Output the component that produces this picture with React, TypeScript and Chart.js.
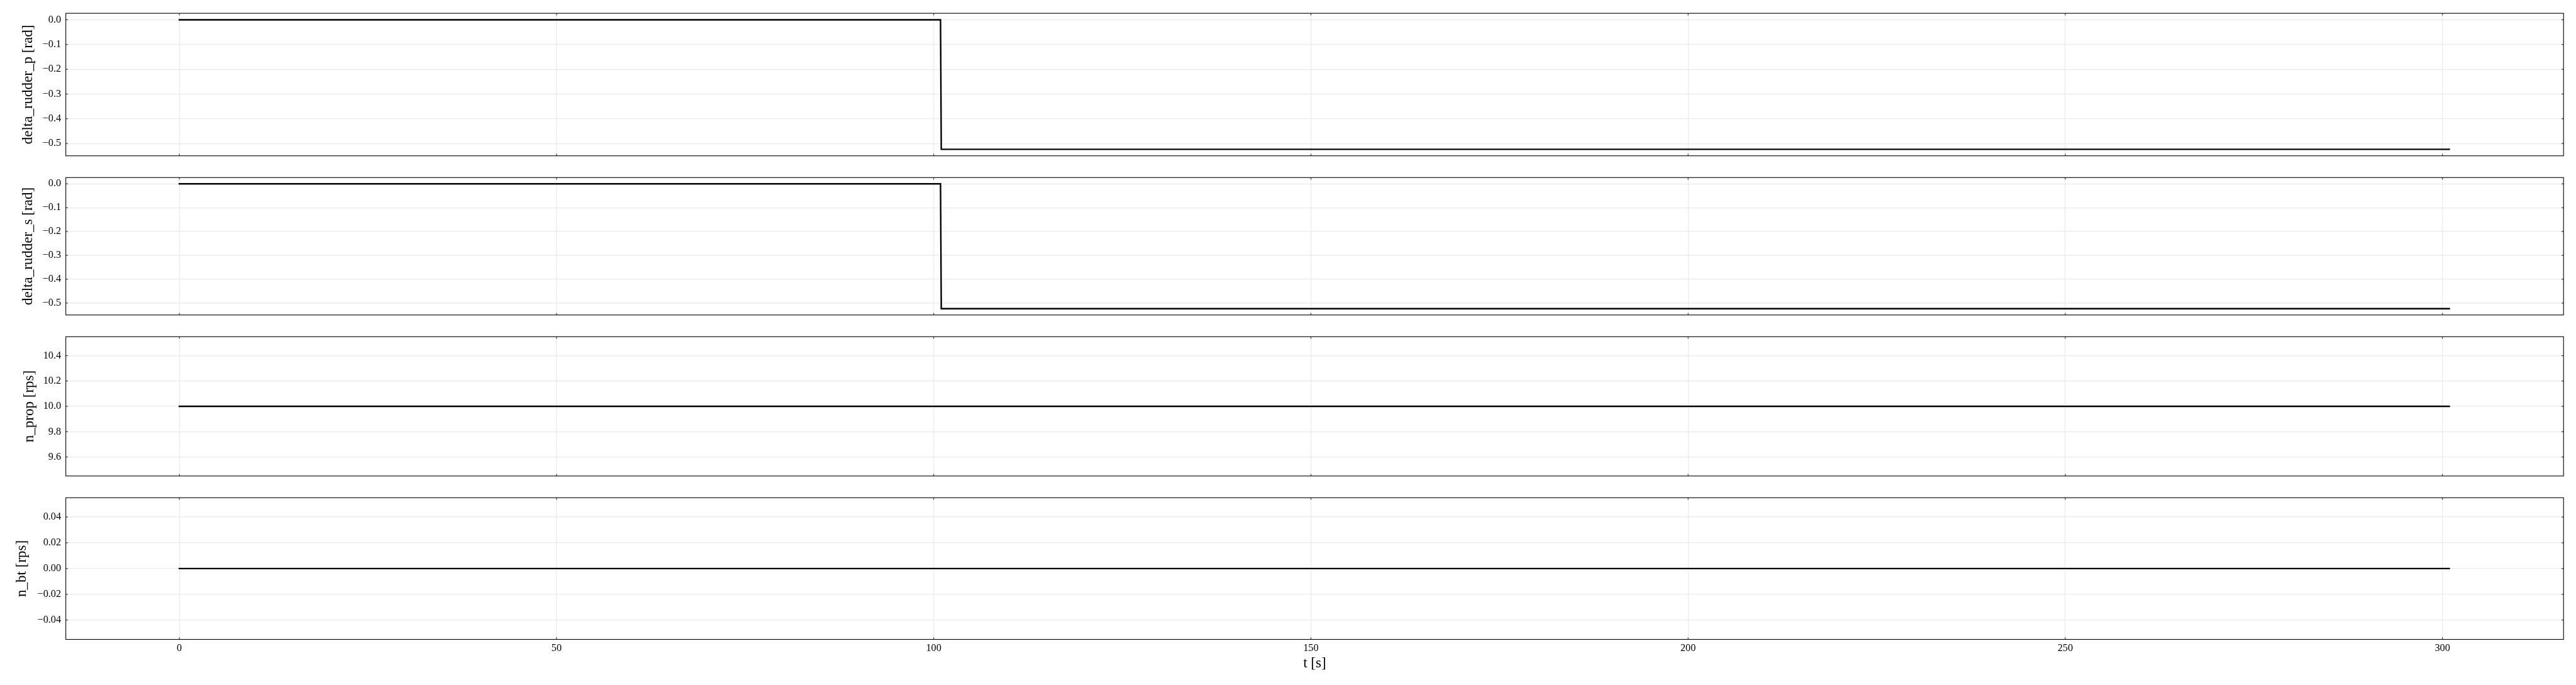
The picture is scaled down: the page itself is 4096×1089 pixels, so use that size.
import React, { useEffect, useRef } from "react";
import { Chart, registerables } from "chart.js";
Chart.register(...registerables);

// ---- data ----
const T_STEP = [0, 100.9, 101.0, 300.9];
const RUDDER_P = [0, 0, -0.5236, -0.5236];
const RUDDER_S = [0, 0, -0.5236, -0.5236];
const T_CONST = [0, 300.9];
const N_PROP = [10, 10];
const N_BT = [0, 0];
const X_TICKS = [0, 50, 100, 150, 200, 250, 300];
const Y_TICKS_RUDDER = [0, -0.1, -0.2, -0.3, -0.4, -0.5];
const Y_TICKS_PROP = [9.6, 9.8, 10.0, 10.2, 10.4];
const Y_TICKS_BT = [-0.04, -0.02, 0, 0.02, 0.04];
const Y_LABELS = ["delta_rudder_p [rad]", "delta_rudder_s [rad]", "n_prop [rps]", "n_bt [rps]"];
const X_LABEL = "t [s]";

// ---- layout ----
const W = 4096;
const FONT = "'Liberation Serif', 'Times New Roman', serif";
const PANELS = [
  { xs: T_STEP, ys: RUDDER_P, ticks: Y_TICKS_RUDDER, dec: 1, min: -0.5498, max: 0.0262, top: 0, h: 265, padTop: 21.15, padBottom: 12.4, titlePad: 30.8 },
  { xs: T_STEP, ys: RUDDER_S, ticks: Y_TICKS_RUDDER, dec: 1, min: -0.5498, max: 0.0262, top: 265, h: 253, padTop: 10.3, padBottom: 10.65, titlePad: 30.8 },
  { xs: T_CONST, ys: N_PROP, ticks: Y_TICKS_PROP, dec: 1, min: 9.45, max: 10.55, top: 518, h: 256, padTop: 11.4, padBottom: 12.5, titlePad: 32.8 },
  { xs: T_CONST, ys: N_BT, ticks: Y_TICKS_BT, dec: 2, min: -0.055, max: 0.055, top: 774, h: 315, padTop: 10.4, padBottom: 0, titlePad: 20.9 },
];

const framePlugin = {
  id: "frameTicks",
  afterDraw(chart: any) {
    const { ctx, chartArea } = chart;
    const { left, right, top, bottom } = chartArea;
    const x = chart.scales.x;
    const y = chart.scales.y;
    ctx.save();
    ctx.strokeStyle = "#000";
    ctx.lineWidth = 1.1;
    ctx.strokeRect(left, top, right - left, bottom - top);
    ctx.lineWidth = 0.9;
    ctx.beginPath();
    const L = 3.2;
    for (const v of X_TICKS) {
      const px = x.getPixelForValue(v);
      ctx.moveTo(px, top);
      ctx.lineTo(px, top + L);
      ctx.moveTo(px, bottom);
      ctx.lineTo(px, bottom - L);
    }
    for (const t of y.ticks) {
      const py = y.getPixelForValue(t.value);
      ctx.moveTo(left, py);
      ctx.lineTo(left + L, py);
      ctx.moveTo(right, py);
      ctx.lineTo(right - L, py);
    }
    ctx.stroke();
    ctx.restore();
  },
};

function fmt(v: number, dec: number) {
  return v.toFixed(dec).replace("-", "\u2212");
}

export default function App() {
  const refs = [useRef<HTMLCanvasElement>(null), useRef<HTMLCanvasElement>(null), useRef<HTMLCanvasElement>(null), useRef<HTMLCanvasElement>(null)];

  useEffect(() => {
    document.body.style.margin = "0";
    document.body.style.overflow = "hidden";
    const charts: Chart[] = [];
    PANELS.forEach((p, i) => {
      const isLast = i === PANELS.length - 1;
      const canvas = refs[i].current;
      if (!canvas) return;
      const chart = new Chart(canvas, {
        type: "line",
        data: {
          datasets: [
            {
              data: p.xs.map((x, j) => ({ x, y: p.ys[j] })),
              borderColor: "#000",
              borderWidth: 2.4,
              pointRadius: 0,
              tension: 0,
              fill: false,
              borderCapStyle: "square",
              borderJoinStyle: "miter",
            } as any,
          ],
        },
        options: {
          animation: false,
          responsive: false,
          devicePixelRatio: 1,
          layout: { padding: { left: 0, right: 19.8, top: p.padTop, bottom: p.padBottom } },
          plugins: { legend: { display: false }, tooltip: { enabled: false } },
          scales: {
            x: {
              type: "linear",
              min: -15.05,
              max: 316.05,
              afterBuildTicks: (a: any) => {
                a.ticks = X_TICKS.map((v) => ({ value: v }));
              },
              afterFit: (a: any) => {
                a.height = isLast ? 72.5 : 0;
              },
              grid: { color: "#e9e9e9", lineWidth: 1.2, drawTicks: false },
              border: { display: false },
              ticks: {
                display: isLast,
                padding: 4,
                autoSkip: false,
                maxRotation: 0,
                color: "#000",
                font: { family: FONT, size: 16.3 },
                callback: (v: any) => String(v),
              },
              title: {
                display: isLast,
                text: X_LABEL,
                color: "#000",
                font: { family: FONT, size: 23 },
                padding: { top: 0, bottom: 19.8 },
              },
            },
            y: {
              type: "linear",
              min: p.min,
              max: p.max,
              afterBuildTicks: (a: any) => {
                a.ticks = p.ticks.map((v) => ({ value: v }));
              },
              afterFit: (a: any) => {
                a.width = 104.65;
              },
              grid: { color: "#e9e9e9", lineWidth: 1.2, drawTicks: false },
              border: { display: false },
              ticks: {
                padding: 7.5,
                autoSkip: false,
                color: "#000",
                font: { family: FONT, size: 16.3 },
                callback: (v: any) => fmt(Number(v), p.dec),
              },
              title: {
                display: true,
                text: Y_LABELS[i],
                color: "#000",
                font: { family: FONT, size: 23 },
                padding: { top: p.titlePad, bottom: 0 },
              },
            },
          },
        } as any,
        plugins: [framePlugin],
      });
      charts.push(chart);
    });
    return () => charts.forEach((c) => c.destroy());
  }, []);

  return (
    <div style={{ position: "fixed", left: 0, top: 0, width: W, height: 1089, background: "#fff" }}>
      {PANELS.map((p, i) => (
        <canvas
          key={i}
          ref={refs[i]}
          width={W}
          height={p.h}
          style={{ position: "absolute", left: 0, top: p.top, width: W, height: p.h, display: "block" }}
        />
      ))}
    </div>
  );
}
